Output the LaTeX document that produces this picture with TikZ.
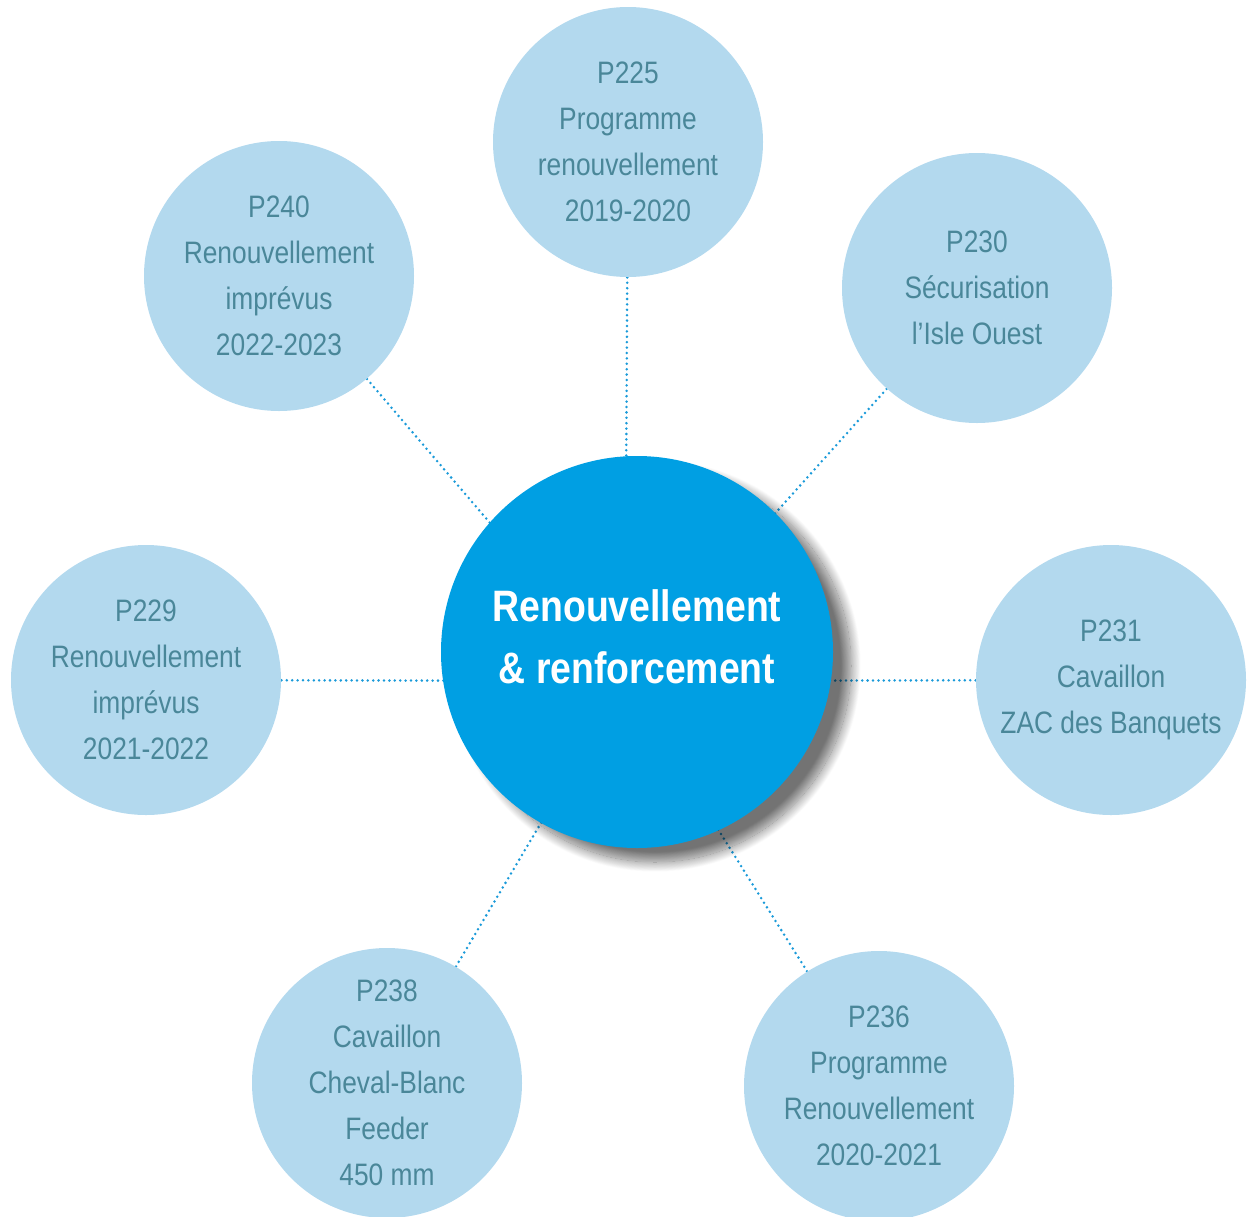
\documentclass[tikz,border=0pt]{standalone}
\usepackage{fontspec}
\newfontfamily\condsans{Liberation Sans}[FakeStretch=0.85]
\usepackage{tikz}
\usetikzlibrary{positioning,shadows.blur,backgrounds}
\definecolor{bubbleblue}{HTML}{B3D9EE}
\definecolor{bubbletext}{HTML}{4A8799}
\definecolor{hubblue}{HTML}{009FE3}
\definecolor{linkblue}{HTML}{1A9AD9}

\begin{document}
\begin{tikzpicture}[x=0.5pt,y=-0.5pt,
    bubble/.style={circle,fill=bubbleblue,minimum size=135pt,inner sep=0pt,
        text=bubbletext,align=center,font=\condsans\fontsize{15.5}{23}\selectfont},
    hubdisc/.style={circle,fill=hubblue,minimum size=196pt,inner sep=0pt,
        blur shadow={shadow xshift=9pt,shadow yshift=-7pt,shadow blur radius=5pt,
            shadow blur steps=24,shadow opacity=55}},
    hubtext/.style={text=white,align=center,font=\condsans\bfseries\fontsize{22}{31}\selectfont},
    link/.style={linkblue,line width=1.4pt,line cap=round,dash pattern=on 0pt off 2.7pt}]
    \useasboundingbox (0,0) rectangle (1253,1216);
    % outer circles
    \node[bubble] (p225) at (628,142) {P225\\Programme\\renouvellement\\2019-2020};
    \node[bubble] (p230) at (977,288) {P230\\Sécurisation\\l’Isle Ouest};
    \node[bubble] (p231) at (1111,680) {P231\\Cavaillon\\ZAC des Banquets};
    \node[bubble] (p236) at (879,1086) {P236\\Programme\\Renouvellement\\2020-2021};
    \node[bubble] (p238) at (387,1083) {P238\\Cavaillon\\Cheval-Blanc\\Feeder\\450 mm};
    \node[bubble] (p229) at (146,680) {P229\\Renouvellement\\imprévus\\2021-2022};
    \node[bubble] (p240) at (279,276) {P240\\Renouvellement\\imprévus\\2022-2023};
    % centre
    \node[hubdisc] (ctr) at (637,652) {};
    \node[hubtext] (ctrtext) at (637,637) {Renouvellement\\\& renforcement};
    \coordinate (hub) at (625,681);
    \begin{scope}[on background layer]
        \foreach \p in {p225,p230,p231,p236,p238,p229,p240}
            \draw[link] (\p) -- (hub);
    \end{scope}
\end{tikzpicture}
\end{document}
